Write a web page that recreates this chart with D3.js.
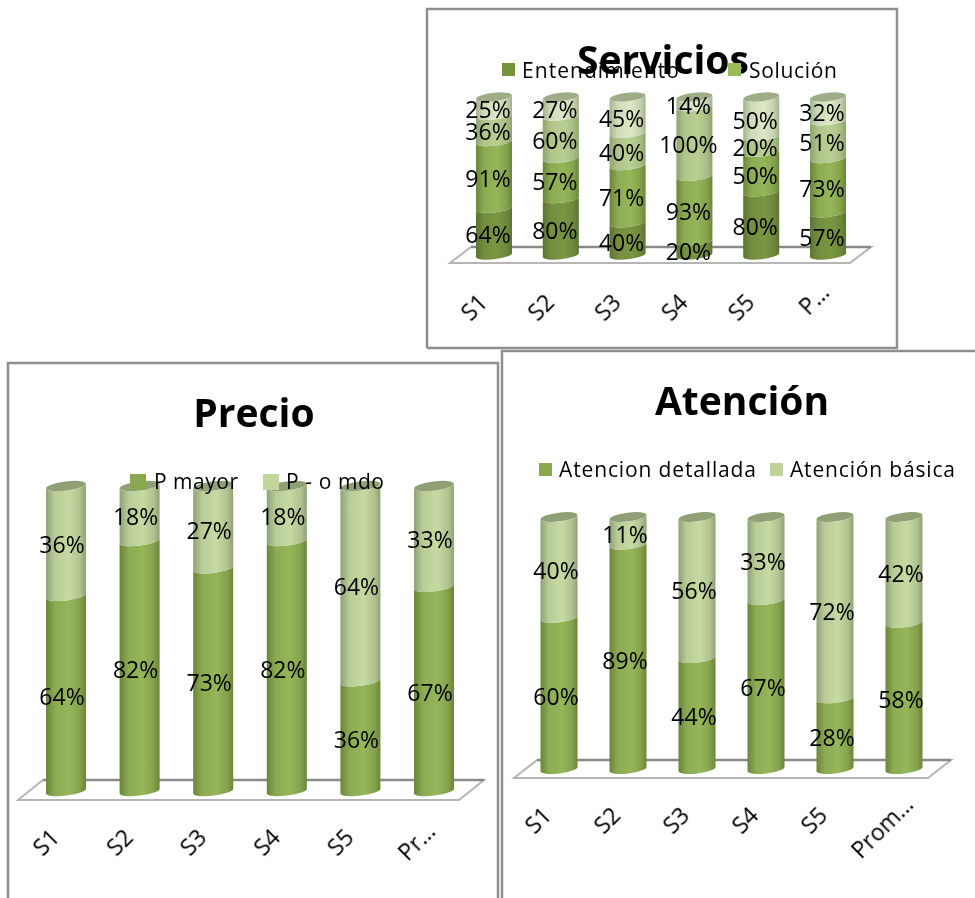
<!DOCTYPE html>
<html><head><meta charset="utf-8">
<script src="https://cdn.jsdelivr.net/npm/d3@7"></script>
<style>html,body{margin:0;background:#fff}svg{display:block}text{font-family:"Open Sans",sans-serif;fill:#000}</style>
</head><body><svg id="c" width="975" height="898"></svg>
<script>
// ---- data ----
const serviciosCats = ["S1","S2","S3","S4","S5","P…"];
const serviciosSeries = ["Entendimiento","Solución","Serie 3","Serie 4"];
const serviciosEntendimiento = [64,80,40,20,80,57];
const serviciosSolucion = [91,57,71,93,50,73];
const serviciosTercera = [36,60,40,100,20,51];
const serviciosCuarta = [25,27,45,14,50,32];
const precioCats = ["S1","S2","S3","S4","S5","Pr…"];
const precioSeries = ["P mayor","P - o mdo"];
const precioMayor = [64,82,73,82,36,67];
const precioMdo = [36,18,27,18,64,33];
const atencionCats = ["S1","S2","S3","S4","S5","Prom…"];
const atencionSeries = ["Atencion detallada","Atención básica"];
const atencionDetallada = [60,89,44,67,28,58];
const atencionBasica = [40,11,56,33,72,42];
// ---- palette ----
const tones = {
  dark:{c:"#7a9642",e:"#5c7432",cap:"#6d8040"},
  mid:{c:"#96b65a",e:"#6a8538",cap:"#7d9650"},
  light:{c:"#b9cf92",e:"#8fa36f",cap:"#93a87a"},
  pale:{c:"#dde8c6",e:"#a4b28c",cap:"#9fac88"},
  soft:{c:"#c6daa2",e:"#8fa176",cap:"#8fa076"}
};
const svg = d3.select("#c");
const defs = svg.append("defs");
for (const [k,t] of Object.entries(tones)) {
  const g = defs.append("linearGradient").attr("id","g-"+k);
  [[0,t.e],[.22,d3.interpolateRgb(t.e,t.c)(.75)],[.58,t.c],[.85,d3.interpolateRgb(t.e,t.c)(.6)],[1,t.e]]
    .forEach(([o,c])=>g.append("stop").attr("offset",o).attr("stop-color",c));
}
const soft = defs.append("filter").attr("id","soft");
soft.append("feGaussianBlur").attr("stdDeviation",.45);

// ---- frames (behind) ----
const frameColor = "#8e8e8e";
const lines = d3.line();
[
  [[427,348],[427,9],[897,9],[897,348],[427,348]],
  [[8,898],[8,363],[498,363],[498,898]],
  [[502,898],[502,351],[975,351]]
].forEach(p=>svg.append("path").attr("d",lines(p)).attr("fill","#fff").attr("stroke",frameColor).attr("stroke-width",2.5));

function chart(o){
  const n=o.cats.length, step=(o.xLast-o.xFirst)/(n-1);
  const p=1-o.barW/step;
  const x=d3.scaleBand().domain(o.cats).range([o.xFirst-step/2,o.xLast+step/2]).paddingInner(p).paddingOuter(p/2);
  const y=d3.scaleLinear().domain([0,1]).range([o.yBottom,o.yTop]);
  const rows=o.cats.map((c,i)=>{const r={cat:c};o.keys.forEach((k,j)=>r[k]=o.values[j][i]);return r;});
  const stacked=d3.stack().keys(o.keys).offset(d3.stackOffsetExpand)(rows);
  const g=svg.append("g");
  // floor
  const f=o.floor;
  g.append("path").attr("d",lines([[f.x0,f.yf],[f.x0+f.dx,f.yb],[f.x1+f.dx,f.yb],[f.x1,f.yf]])+"Z")
    .attr("fill","#fff").attr("stroke","#b5b5b5").attr("stroke-width",2);
  g.append("line").attr("x1",f.x0+f.dx).attr("x2",f.x1+f.dx).attr("y1",f.yb).attr("y2",f.yb).attr("stroke","#8a8a8a").attr("stroke-width",2.5);
  // cylinders
  const rx=x.bandwidth()/2, ry=o.ry, t=o.tilt, rot=-Math.atan2(t,rx)*180/Math.PI;
  const bars=g.append("g");
  stacked.forEach((s,si)=>{
    bars.selectAll(null).data(s).join("path")
      .attr("fill",`url(#g-${o.tones[si]})`)
      .attr("d",d=>{
        const x0=x(d.data.cat),x1=x0+x.bandwidth(),yb=y(d[0]),yt=y(d[1]);
        return `M${x0},${yb+t}A${rx},${ry} ${rot} 0 0 ${x1},${yb-t}L${x1},${yt-t}A${rx},${ry} ${rot} 0 1 ${x0},${yt+t}Z`;
      });
  });
  const top=stacked[stacked.length-1];
  bars.selectAll(null).data(top).join("ellipse")
    .attr("rx",rx).attr("ry",ry).attr("fill",tones[o.tones[o.tones.length-1]].cap)
    .attr("transform",d=>`translate(${x(d.data.cat)+rx},${y(1)}) rotate(${rot})`);
  // axis
  const ax=g.append("g").attr("transform",`translate(0,${o.axisY})`)
    .call(d3.axisBottom(x).tickSize(0).tickPadding(0));
  ax.select(".domain").remove();
  ax.selectAll("text").attr("font-size",o.axisFont).attr("text-anchor","end").attr("dy",0).attr("y",0)
    .attr("transform",(d,i)=>i===n-1?`translate(${o.axisDx+o.lastShift[0]},${o.lastShift[1]}) rotate(-45)`:`translate(${o.axisDx},0) rotate(-45)`)
    .style("font-family",'"Open Sans",sans-serif').attr("fill","#000").attr("filter","url(#soft)");
  // labels
  stacked.forEach(s=>{
    g.selectAll(null).data(s).join("text")
      .attr("x",d=>x(d.data.cat)+rx+o.labelDx).attr("y",d=>(y(d[0])+y(d[1]))/2+o.labelFont*.36+o.labelDy)
      .attr("text-anchor","middle").attr("font-size",o.labelFont).attr("filter","url(#soft)")
      .text(d=>d.data[s.key]+"%");
  });
  // title
  g.append("text").attr("x",o.titleX).attr("y",o.titleY).attr("text-anchor","middle").attr("font-size",o.titleFont)
    .attr("font-weight",700).style("font-family",'"Open Sans",sans-serif').attr("filter","url(#soft)").text(o.title);
  // legend
  o.legend.forEach(l=>{
    g.append("rect").attr("x",l.x).attr("y",l.y).attr("width",l.s).attr("height",l.s).attr("fill",l.fill);
    g.append("text").attr("x",l.tx).attr("y",l.by).attr("font-size",o.legendFont).attr("filter","url(#soft)")
      .attr("textLength",l.tw).attr("lengthAdjust","spacing").text(l.name);
  });
}

chart({title:"Servicios",titleX:663,titleY:74,titleFont:39,cats:serviciosCats,keys:serviciosSeries,
  values:[serviciosEntendimiento,serviciosSolucion,serviciosTercera,serviciosCuarta],
  tones:["dark","mid","light","pale"],xFirst:494,xLast:828,barW:36,yBottom:255,yTop:97,ry:4.2,tilt:2,
  floor:{x0:450,x1:850,dx:21,yf:263,yb:247},axisY:304,axisDx:-5,lastShift:[8,-10],axisFont:23,labelDx:-6,labelDy:3.5,labelFont:23,legendFont:21,
  legend:[{name:serviciosSeries[0],x:502,y:63,s:13,fill:"#76923c",tx:522,by:78,tw:157},
          {name:serviciosSeries[1],x:728,y:63,s:13,fill:"#9bbb59",tx:749,by:78,tw:88}]});
chart({title:"Precio",titleX:254,titleY:427,titleFont:39,cats:precioCats,keys:precioSeries,
  values:[precioMayor,precioMdo],tones:["mid","soft"],xFirst:66,xLast:434,barW:40,yBottom:791,yTop:486,ry:4.6,tilt:2.5,
  floor:{x0:18,x1:459,dx:25,yf:800,yb:780},axisY:839,axisDx:-5,lastShift:[8,-6],axisFont:23,labelDx:-4,labelDy:3.5,labelFont:23,legendFont:21,
  legend:[{name:precioSeries[0],x:130,y:474,s:16,fill:"#8aa84e",tx:154,by:489,tw:84},
          {name:precioSeries[1],x:263,y:474,s:16,fill:"#c2d69b",tx:286,by:489,tw:98}]});
chart({title:"Atención",titleX:742,titleY:415,titleFont:39,cats:atencionCats,keys:atencionSeries,
  values:[atencionDetallada,atencionBasica],tones:["mid","soft"],xFirst:559,xLast:904,barW:37,yBottom:769,yTop:517,ry:4.4,tilt:2.2,
  floor:{x0:514,x1:928,dx:23,yf:778,yb:760},axisY:817,axisDx:-6,lastShift:[17,-11],axisFont:23,labelDx:-3,labelDy:3.5,labelFont:23,legendFont:21,
  legend:[{name:atencionSeries[0],x:539,y:463,s:13,fill:"#8aa84e",tx:559,by:477,tw:197},
          {name:atencionSeries[1],x:770,y:463,s:13,fill:"#bdd39a",tx:790,by:477,tw:165}]});
</script></body></html>
